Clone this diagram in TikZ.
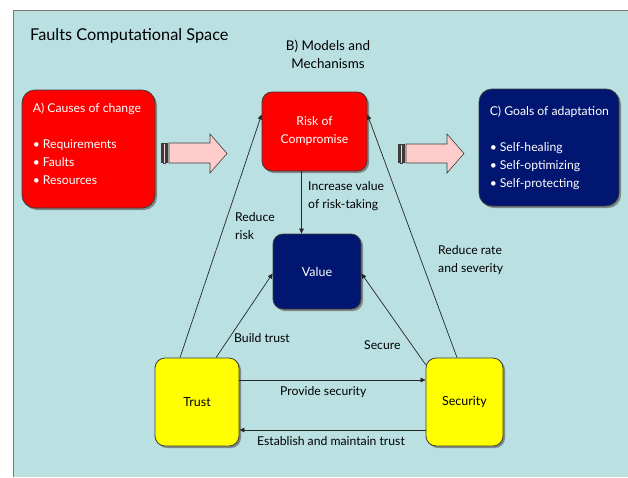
\documentclass[tikz,border=0pt]{standalone}
\usepackage{fontspec}
\setmainfont{Lato}
\usetikzlibrary{arrows.meta,shadows,calc}

\definecolor{panel}{RGB}{186,224,226}
\definecolor{causered}{RGB}{255,0,0}
\definecolor{goalnavy}{RGB}{0,22,112}
\definecolor{boxyellow}{RGB}{255,255,0}
\definecolor{arrowpink}{RGB}{255,204,204}
\definecolor{edgegray}{RGB}{60,60,60}
\definecolor{framegray}{RGB}{120,120,120}

\tikzset{
  box/.style={draw=edgegray, line width=0.8pt, rounded corners=10pt, inner sep=0pt,
    drop shadow={shadow xshift=2pt, shadow yshift=-2pt, fill=black!60, opacity=0.7}},
  redbox/.style={box, fill=causered, text=white},
  navybox/.style={box, fill=goalnavy, text=white},
  yellowbox/.style={box, fill=boxyellow, text=black},
  link/.style={draw=black!85, line width=0.7pt, -{Triangle[length=5pt,width=4.5pt]}},
  lbl/.style={font=\fontsize{12.2}{18}\selectfont, align=left, inner sep=0pt},
  inbox/.style={font=\fontsize{12.2}{18}\selectfont, align=left, inner sep=0pt, text=white},
  blockarrow/.style={draw=edgegray, line width=0.6pt, fill=arrowpink},
  stripe/.style={draw=none, fill=edgegray},
}

\begin{document}
\begin{tikzpicture}[x=1pt,y=-1pt]
  % page and panel
  \fill[white] (0,0) rectangle (628,477);
  \useasboundingbox (0,0) rectangle (628,477);
  \fill[panel] (13,10) rectangle (628,477);
  \draw[framegray, line width=1pt] (13,477) -- (13,10) -- (628,10);

  % headings
  \node[anchor=west, inner sep=0pt, font=\fontsize{16.3}{18}\selectfont] (title) at (30,36) {Faults Computational Space};
  \node[align=center, inner sep=0pt, font=\fontsize{13.4}{18}\selectfont] (mech) at (328,54) {B) Models and\\Mechanisms};

  % boxes
  \node[redbox, minimum width=133pt, minimum height=118pt, rounded corners=13pt] (causes) at (88.5,149) {};
  \node[navybox, minimum width=140pt, minimum height=117pt, rounded corners=13pt] (goals) at (549,147.5) {};
  \node[redbox, minimum width=105pt, minimum height=79pt, align=center, font=\fontsize{12.2}{18}\selectfont] (risk) at (314.5,131.5) {Risk of\\Compromise};
  \node[navybox, minimum width=88pt, minimum height=75pt, font=\fontsize{12.5}{18}\selectfont] (value) at (317,271.5) {Value};
  \node[yellowbox, minimum width=84pt, minimum height=88pt, font=\fontsize{12.5}{18}\selectfont] (trust) at (197,402) {Trust};
  \node[yellowbox, minimum width=77pt, minimum height=88pt, font=\fontsize{12.5}{18}\selectfont] (security) at (464.5,402) {Security};

  % box contents
  \node[inbox, anchor=north west] (causestext) at ([shift={(11pt,-13pt)}]causes.north west)
    {A) Causes of change\\[18pt]\textbullet\hspace{3pt}Requirements\\\textbullet\hspace{3pt}Faults\\\textbullet\hspace{3pt}Resources};
  \node[inbox, anchor=north west] (goalstext) at ([shift={(11pt,-17pt)}]goals.north west)
    {C) Goals of adaptation\\[18pt]\textbullet\hspace{3pt}Self-healing\\\textbullet\hspace{3pt}Self-optimizing\\\textbullet\hspace{3pt}Self-protecting};

  % block arrows with striped tails
  \draw[blockarrow] (169,143) -- (210,143) -- (210,134) -- (227,153.5) -- (210,173) -- (210,163) -- (169,163) -- cycle;
  \fill[stripe] (161,143) rectangle (162.5,163);
  \draw[edgegray, line width=0.5pt, fill=arrowpink] (163.5,143) rectangle (165,163);
  \fill[stripe] (166,143) rectangle (167.5,163);
  \draw[blockarrow] (406,144) -- (447,144) -- (447,134) -- (464,153.5) -- (447,173) -- (447,163) -- (406,163) -- cycle;
  \fill[stripe] (398,144) rectangle (399.5,163);
  \draw[edgegray, line width=0.5pt, fill=arrowpink] (400.5,144) rectangle (402,163);
  \fill[stripe] (403,144) rectangle (404.5,163);

  % connectors
  \draw[link] ([xshift=-13pt]risk.south) -- ([xshift=-13pt]risk.south |- value.north);
  \draw[link] ([xshift=-17pt]trust.north) -- ([yshift=17pt]risk.west);
  \draw[link] ([xshift=19pt]trust.north) -- ([yshift=-2pt]value.west);
  \draw[link] ([yshift=-7pt]security.north west) -- ([yshift=-2pt]value.east);
  \draw[link] ([xshift=-7.5pt]security.north) -- ([yshift=17pt]risk.east);
  \draw[link] ([yshift=22pt]trust.east) -- ([yshift=22pt]trust.east -| security.west);
  \draw[link] ([yshift=-28pt]security.west) -- ([yshift=-28pt]security.west -| trust.east);

  % connector labels
  \node[lbl, anchor=west] (incl) at (308,196) {Increase value\\of risk-taking};
  \node[lbl, anchor=west] (redl) at (235,226) {Reduce\\risk};
  \node[lbl, anchor=west] (ratel) at (438,260) {Reduce rate\\and severity};
  \node[lbl, anchor=west] (buildl) at (234,338) {Build trust};
  \node[lbl, anchor=west] (securel) at (364,345) {Secure};
  \node[lbl, anchor=west] (providel) at (280,392) {Provide security};
  \node[lbl, anchor=west] (establl) at (257,441) {Establish and maintain trust};
\end{tikzpicture}
\end{document}
